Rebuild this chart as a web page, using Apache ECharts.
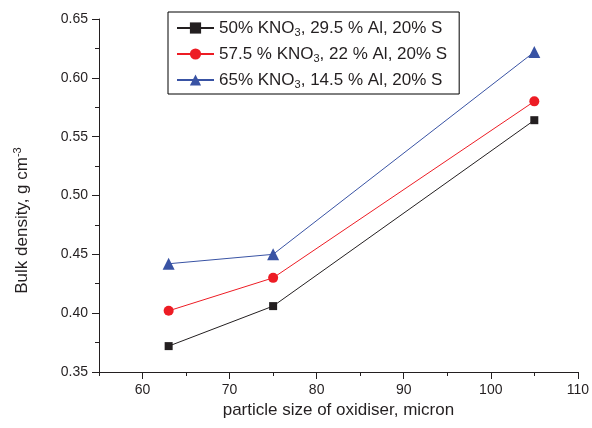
<!DOCTYPE html>
<html><head><meta charset="utf-8">
<script src="https://cdn.jsdelivr.net/npm/echarts@6/dist/echarts.min.js"></script>
<style>html,body{margin:0;padding:0;background:#fff}#c{width:592px;height:428px}</style>
</head><body><div id="c"></div>
<script>
const xValues = [63, 75, 105];
const series1 = [0.372, 0.406, 0.564];
const series2 = [0.402, 0.430, 0.580];
const series3 = [0.442, 0.450, 0.622];
const seriesNames = ['50% KNO{sub|3}, 29.5 % Al, 20% S', '57.5 % KNO{sub|3}, 22 % Al, 20% S', '65% KNO{sub|3}, 14.5 % Al, 20% S'];
const xMajorTicks = [60, 70, 80, 90, 100, 110];
const xMinorTicks = [55, 65, 75, 85, 95, 105];

const font = 'Liberation Sans, Arial, sans-serif';
const chart = echarts.init(document.getElementById('c'));
function pts(ys){ return xValues.map((x,i)=>[x, ys[i]]); }
const colors = ['#231f20', '#ed1c24', '#3953a4'];
const symbols = ['rect', 'circle', 'triangle'];
const sizes = [8, 10, 12];
const data = [series1, series2, series3];
chart.setOption({
  animation: false,
  grid: {left: 99, right: 14, top: 19, bottom: 56},
  legend: {
    orient: 'vertical', left: 168, top: 12,
    borderColor: '#000', borderWidth: 1, padding: [6, 12, 4, 8],
    itemWidth: 37, itemHeight: 14, itemGap: 6,
    formatter: function(name){ return name; },
    textStyle: {fontFamily: font, fontSize: 17, color: '#231f20', lineHeight: 19,
      rich: {sub: {fontSize: 11, fontFamily: font, color: '#231f20', lineHeight: 19, padding: [9, 0, 0, 0]}}},
    data: seriesNames
  },
  xAxis: [{
    type: 'value', min: 55, max: 110,
    name: 'particle size of oxidiser, micron', nameLocation: 'middle', nameGap: 30,
    nameTextStyle: {fontFamily: font, fontSize: 17, color: '#231f20'},
    axisLine: {show: true, lineStyle: {color: '#231f20', width: 1}},
    axisTick: {show: true, length: 7, customValues: xMajorTicks, lineStyle: {color: '#231f20'}},
    axisLabel: {customValues: xMajorTicks, fontFamily: font, fontSize: 14, color: '#231f20', margin: 11},
    splitLine: {show: false}
  }, {
    type: 'value', min: 55, max: 110, position: 'bottom',
    axisLine: {show: false},
    axisTick: {show: true, length: 4, customValues: xMinorTicks, lineStyle: {color: '#231f20'}},
    axisLabel: {show: false},
    splitLine: {show: false}
  }],
  yAxis: {
    type: 'value', min: 0.35, max: 0.65, interval: 0.05,
    name: 'Bulk density, g cm{sup|-3}', nameLocation: 'middle', nameGap: 67, nameRotate: 90,
    nameTextStyle: {fontFamily: font, fontSize: 17, color: '#231f20', padding: [0, 50, 0, 0],
      rich: {sup: {fontSize: 11, fontFamily: font, color: '#231f20', padding: [0, 0, 9, 0]}}},
    axisLine: {show: true, lineStyle: {color: '#231f20', width: 1}},
    axisTick: {show: true, length: 7, lineStyle: {color: '#231f20'}},
    minorTick: {show: true, splitNumber: 2, length: 4, lineStyle: {color: '#231f20'}},
    axisLabel: {fontFamily: font, fontSize: 14, color: '#231f20', margin: 11,
      formatter: v => v.toFixed(2)},
    splitLine: {show: false}
  },
  series: data.map((d, i) => ({
    name: seriesNames[i], type: 'line', data: pts(d), xAxisIndex: 0,
    symbol: symbols[i], symbolSize: sizes[i],
    lineStyle: {color: colors[i], width: 1},
    itemStyle: {color: colors[i]}
  }))
});
</script></body></html>
